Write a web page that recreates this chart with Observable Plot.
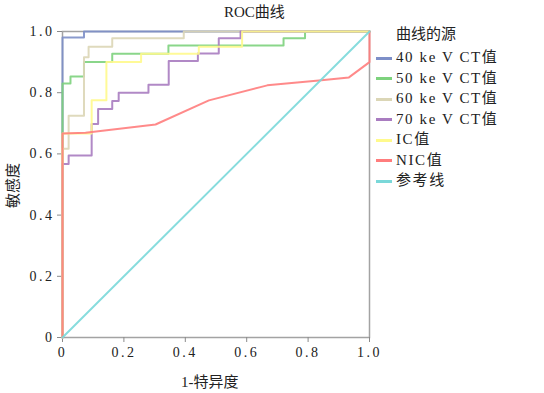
<!DOCTYPE html>
<html><head><meta charset="utf-8">
<script src="https://cdn.jsdelivr.net/npm/d3@7"></script>
<script src="https://cdn.jsdelivr.net/npm/@observablehq/plot@0.6"></script>
<style>
body{margin:0;background:#fff;}
#wrap{position:relative;width:544px;height:393px;font-family:"Liberation Serif","Noto Sans CJK SC",serif;color:#222;}
.t{position:absolute;white-space:pre;font-size:15px;line-height:15px;}
.sw{position:absolute;width:16px;height:3px;}
#wrap svg g[aria-label="x-axis tick label"] text, #wrap svg g[aria-label="y-axis tick label"] text{letter-spacing:2.5px;}
</style></head><body><div id="wrap"></div>
<script>
const titleText = "ROC曲线";
const xLabel = "1-特异度";
const yLabel = "敏感度";
const legendTitle = "曲线的源";
const seriesNames = ["40 ke V CT值","50 ke V CT值","60 ke V CT值","70 ke V CT值","IC值","NIC值","参考线"];
const seriesColors = ["#7d8fc8","#7dd27d","#dbd6b6","#a97cc0","#fffa8c","#ff7d7d","#7ad8d9"];
const xTicks = [0,0.2,0.4,0.6,0.8,1.0];
const yTicks = [0,0.2,0.4,0.6,0.8,1.0];

// step-after corner points (1-specificity, sensitivity)
const x40 = [0,0,0.07,1];
const y40 = [0,0.98,1,1];
const x50 = [0,0,0.026,0.07,0.162,0.345,0.72,0.79,1];
const y50 = [0,0.83,0.853,0.90,0.927,0.954,0.978,1,1];
const x60 = [0,0,0.02,0.07,0.085,0.162,0.395,1];
const y60 = [0,0.617,0.725,0.916,0.95,0.978,1,1];
const x70 = [0,0,0.02,0.095,0.116,0.162,0.183,0.28,0.346,0.441,0.509,0.58,1];
const y70 = [0,0.567,0.595,0.698,0.747,0.773,0.80,0.826,0.904,0.928,0.978,1,1];
const xIC = [0,0,0.095,0.143,0.256,0.444,0.585,1];
const yIC = [0,0.667,0.775,0.90,0.927,0.95,1,1];
// NIC: linear segments
const xNIC = [0,0,0.075,0.303,0.477,0.667,0.835,0.933,1,1];
const yNIC = [0,0.667,0.669,0.696,0.775,0.824,0.84,0.85,0.90,1];
const xRef = [0,1];
const yRef = [0,1];

const fmt = d => d === 0 ? "0" : d.toFixed(1);
const pts = (xs, ys) => xs.map((x, i) => ({x, y: ys[i]}));
const series = [
  {xs:x40, ys:y40, curve:"step-after"},
  {xs:x50, ys:y50, curve:"step-after"},
  {xs:x60, ys:y60, curve:"step-after"},
  {xs:x70, ys:y70, curve:"step-after"},
  {xs:xIC, ys:yIC, curve:"step-after"},
  {xs:xNIC, ys:yNIC, curve:"linear"},
  {xs:xRef, ys:yRef, curve:"linear"}
];

const chart = Plot.plot({
  width:544, height:393,
  marginLeft:62, marginRight:175, marginTop:31, marginBottom:56,
  x:{domain:[0,1]},
  y:{domain:[0,1]},
  style:{fontFamily:"Liberation Serif", fontSize:"14px", color:"#222", background:"transparent"},
  marks:[
    Plot.frame({stroke:"#a3a3a3", strokeWidth:1.5}),
    Plot.axisX({ticks:xTicks, tickFormat:fmt, tickSize:5, tickPadding:5, stroke:"#8a8a8a", label:null, fontSize:14}),
    Plot.axisY({ticks:yTicks, tickFormat:fmt, tickSize:5, tickPadding:3, stroke:"#8a8a8a", label:null, fontSize:14}),
    ...series.map((s, i) => Plot.line(pts(s.xs, s.ys), {x:"x", y:"y", curve:s.curve, stroke:seriesColors[i], strokeWidth:2, strokeOpacity:0.9}))
  ]
});
const wrap = document.getElementById("wrap");
wrap.appendChild(chart);

function addText(txt, left, top, extra) {
  const d = document.createElement("div");
  d.className = "t";
  d.textContent = txt;
  d.style.left = left + "px";
  d.style.top = top + "px";
  if (extra) Object.assign(d.style, extra);
  wrap.appendChild(d);
  return d;
}
addText(titleText, 224, 5);
addText(xLabel, 181, 375);
addText(yLabel, -11, 178, {transform:"rotate(-90deg)", transformOrigin:"center", width:"48px", textAlign:"center"});
addText(legendTitle, 396, 27);
seriesNames.forEach((n, i) => {
  const cy = 58 + i * 20.5;
  const sw = document.createElement("div");
  sw.className = "sw";
  sw.style.left = "376px";
  sw.style.top = (cy - 1.5) + "px";
  sw.style.background = seriesColors[i];
  wrap.appendChild(sw);
  addText(n, 396, cy - 8, {letterSpacing: "1.6px"});
});
</script></body></html>
